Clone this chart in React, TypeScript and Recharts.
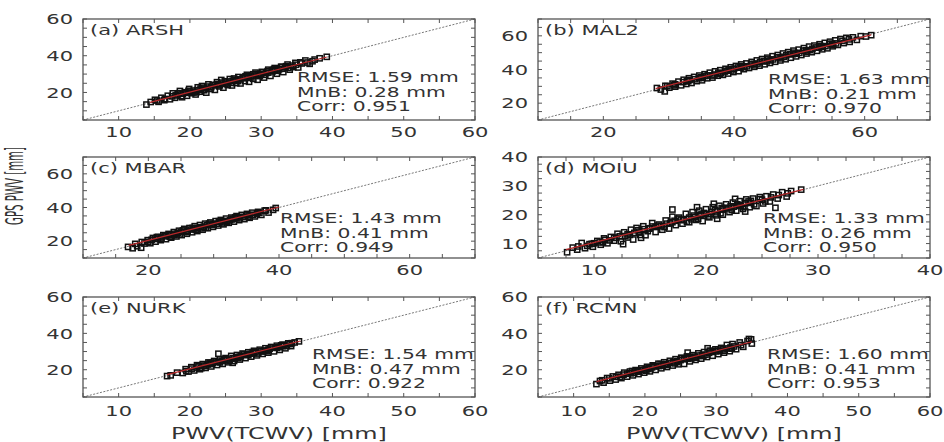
import { ScatterChart, Scatter, XAxis, YAxis } from "recharts";

type Pt = [number, number];

const SX = 1.45;
const FONT = "'DejaVu Sans', Verdana, sans-serif";
const TXT = "#333";
const FRAME = "#555";
const RED = "#b8282a";

// ---- values ----
const titles = ["(a) ARSH", "(b) MAL2", "(c) MBAR", "(d) MOIU", "(e) NURK", "(f) RCMN"];

const statsA = ["RMSE: 1.59 mm", "MnB: 0.28 mm", "Corr: 0.951"];
const statsB = ["RMSE: 1.63 mm", "MnB: 0.21 mm", "Corr: 0.970"];
const statsC = ["RMSE: 1.43 mm", "MnB: 0.41 mm", "Corr: 0.949"];
const statsD = ["RMSE: 1.33 mm", "MnB: 0.26 mm", "Corr: 0.950"];
const statsE = ["RMSE: 1.54 mm", "MnB: 0.47 mm", "Corr: 0.922"];
const statsF = ["RMSE: 1.60 mm", "MnB: 0.41 mm", "Corr: 0.953"];

const domA: Pt = [5, 60];
const domB: Pt = [10, 70];
const domC: Pt = [10, 70];
const domD: Pt = [5, 40];

const ticks10to60 = [10, 20, 30, 40, 50, 60];
const ticks20to60 = [20, 40, 60];
const ticks10to40 = [10, 20, 30, 40];
const minor5to60 = [5, 10, 15, 20, 25, 30, 35, 40, 45, 50, 55, 60];
const minor10to70 = [10, 15, 20, 25, 30, 35, 40, 45, 50, 55, 60, 65, 70];
const minor5to40 = [5, 7.5, 10, 12.5, 15, 17.5, 20, 22.5, 25, 27.5, 30, 32.5, 35, 37.5, 40];

const ptsA: Pt[] = [
  [13.9, 13.4], [14.5, 14.8], [15.1, 16.0], [15.6, 14.9], [16.0, 17.1], [16.4, 15.8], [16.9, 18.2], [17.2, 16.3], [17.6, 19.5], [17.9, 17.1],
  [18.3, 18.9], [18.6, 20.8], [18.9, 17.4], [19.3, 20.1], [19.6, 18.2], [19.9, 21.9], [20.2, 19.6], [20.5, 21.0], [20.8, 18.9], [21.1, 22.8],
  [21.4, 20.4], [21.7, 23.5], [22.0, 21.2], [22.3, 19.9], [22.6, 24.4], [22.9, 22.1], [23.2, 23.9], [23.5, 21.4], [23.8, 25.6], [24.1, 23.3],
  [24.4, 26.8], [24.7, 22.6], [25.0, 25.4], [25.3, 24.0], [25.6, 27.3], [25.9, 23.8], [26.2, 26.6], [26.5, 25.1], [26.8, 28.4], [27.1, 24.9],
  [27.4, 27.8], [27.7, 26.2], [28.0, 29.6], [28.3, 25.8], [28.6, 28.9], [28.9, 27.4], [29.2, 30.8], [29.5, 26.9], [29.8, 29.5], [30.1, 31.2],
  [30.4, 28.1], [30.7, 30.6], [31.0, 32.4], [31.3, 29.0], [31.6, 31.5], [31.9, 33.3], [32.2, 30.2], [32.5, 32.6], [32.8, 34.0], [33.1, 31.1],
  [33.4, 33.7], [33.7, 35.2], [34.0, 32.4], [34.4, 34.6], [34.8, 36.1], [35.2, 33.6], [35.7, 35.8], [36.2, 37.4], [36.8, 35.6], [37.5, 37.9],
  [38.2, 38.6], [39.2, 39.4], [20.0, 20.4], [21.0, 21.3], [22.0, 22.6], [23.0, 22.9], [24.0, 24.6], [25.0, 24.7], [26.0, 26.3], [27.0, 27.1],
  [28.0, 27.9], [29.0, 29.2], [30.0, 30.0], [31.0, 30.8], [32.0, 32.2], [33.0, 32.9], [24.5, 25.3], [26.5, 27.0], [28.5, 28.1], [30.5, 29.6],
  [19.0, 19.3], [18.0, 18.4], [17.5, 17.9], [18.5, 19.6], [19.5, 19.8], [20.5, 20.0], [21.5, 22.1], [22.5, 23.2], [23.5, 24.1], [24.2, 23.9],
  [25.5, 26.0], [26.7, 26.2], [27.5, 28.2], [28.2, 28.6], [29.5, 30.1], [30.2, 30.9], [31.5, 32.0], [32.3, 31.8], [33.5, 34.3], [34.5, 33.8],
  [35.5, 36.4], [36.5, 36.3], [37.2, 37.0], [19.8, 20.9], [21.8, 21.5], [23.8, 24.4], [25.8, 25.2], [27.8, 28.8], [29.8, 28.9], [31.8, 32.7],
  [33.8, 33.4], [22.8, 21.9], [26.2, 27.6], [28.9, 29.9], [30.9, 31.6], [32.9, 33.9], [24.9, 26.1], [20.9, 20.1], [18.8, 18.0], [16.5, 16.4],
  [15.4, 15.6], [34.9, 35.1],
];

const ptsB: Pt[] = [
  [28.2, 29.0], [28.8, 28.1], [29.4, 27.0], [29.5, 30.3], [30.1, 29.2], [30.6, 31.6], [31.0, 29.8], [31.5, 32.8], [31.9, 30.6], [32.3, 33.9],
  [32.7, 31.4], [33.1, 34.8], [33.5, 32.0], [33.9, 35.6], [34.3, 33.1], [34.7, 36.4], [35.1, 33.6], [35.5, 37.2], [35.9, 34.8], [36.3, 38.1],
  [36.7, 35.2], [37.1, 38.9], [37.5, 36.3], [37.9, 39.6], [38.3, 36.8], [38.7, 40.4], [39.1, 37.6], [39.5, 41.3], [39.9, 38.5], [40.3, 42.1],
  [40.7, 39.0], [41.1, 43.0], [41.5, 40.2], [41.9, 43.6], [42.3, 40.9], [42.7, 44.5], [43.1, 41.6], [43.5, 45.4], [43.9, 42.3], [44.3, 46.2],
  [44.7, 43.1], [45.1, 47.0], [45.5, 43.9], [45.9, 47.9], [46.3, 44.6], [46.7, 48.6], [47.1, 45.4], [47.5, 49.5], [47.9, 46.1], [48.3, 50.3],
  [48.7, 47.0], [49.1, 51.2], [49.5, 47.8], [49.9, 51.8], [50.3, 48.6], [50.7, 52.7], [51.1, 49.5], [51.5, 53.6], [51.9, 50.3], [52.3, 54.2],
  [52.7, 51.1], [53.1, 55.0], [53.5, 52.0], [53.9, 55.8], [54.3, 52.6], [54.7, 56.5], [55.1, 53.8], [55.5, 57.3], [55.9, 54.6], [56.3, 58.1],
  [56.8, 55.7], [57.2, 58.8], [57.7, 56.4], [58.2, 59.1], [58.8, 57.6], [59.4, 59.8], [60.2, 59.6], [61.0, 60.4], [31.0, 31.2], [33.0, 33.1],
  [35.0, 35.4], [37.0, 37.0], [39.0, 39.3], [41.0, 41.1], [43.0, 43.4], [45.0, 44.8], [47.0, 47.3], [49.0, 49.1], [51.0, 51.4], [53.0, 53.0],
  [55.0, 55.3], [34.0, 34.2], [36.0, 36.5], [38.0, 37.8], [40.0, 40.4], [42.0, 41.9], [44.0, 44.5], [46.0, 46.0], [48.0, 48.4], [50.0, 49.9],
  [52.0, 52.3], [54.0, 53.9], [29.8, 30.1], [30.8, 30.6], [32.2, 32.5], [33.2, 33.8], [34.6, 34.9], [35.6, 36.1], [36.6, 36.4], [37.6, 38.1],
  [38.6, 38.8], [39.6, 39.4], [40.6, 41.2], [41.6, 41.4], [42.6, 43.1], [43.6, 43.5], [44.6, 45.1], [45.6, 45.4], [46.6, 47.2], [47.6, 47.5],
  [48.6, 49.1], [49.6, 49.4], [50.6, 51.2], [51.6, 51.5], [52.6, 53.1], [53.6, 53.4], [54.6, 55.2], [55.6, 55.5], [56.6, 57.0], [57.6, 57.9],
  [32.8, 33.0], [35.2, 35.0], [37.8, 37.4], [39.2, 40.1], [41.2, 42.0], [43.2, 42.5], [45.2, 46.0], [47.2, 46.6], [49.2, 50.0], [51.2, 50.6],
  [53.2, 54.0], [55.2, 54.6],
];

const ptsC: Pt[] = [
  [16.9, 16.6], [17.6, 15.8], [18.3, 17.0], [18.9, 16.1], [19.4, 18.6], [19.9, 20.6], [20.3, 18.8], [20.7, 21.9], [21.1, 19.7], [21.5, 22.5],
  [21.9, 20.6], [22.3, 23.6], [22.7, 21.2], [23.1, 24.3], [23.5, 22.1], [23.9, 25.4], [24.3, 22.8], [24.7, 26.2], [25.1, 23.6], [25.5, 27.3],
  [25.9, 24.4], [26.3, 27.8], [26.7, 25.3], [27.1, 28.9], [27.5, 26.0], [27.9, 29.6], [28.3, 26.8], [28.7, 30.4], [29.1, 27.7], [29.5, 31.1],
  [29.9, 28.5], [30.3, 31.9], [30.7, 29.3], [31.1, 32.6], [31.5, 30.0], [31.9, 33.4], [32.3, 30.9], [32.7, 34.0], [33.1, 31.6], [33.5, 34.9],
  [33.9, 32.5], [34.3, 35.6], [34.7, 33.1], [35.1, 36.2], [35.5, 33.9], [35.9, 36.9], [36.3, 34.7], [36.8, 37.4], [37.3, 35.6], [37.8, 38.1],
  [38.4, 37.0], [39.1, 38.6], [20.5, 20.8], [21.5, 21.3], [22.5, 22.9], [23.5, 23.6], [24.5, 24.9], [25.5, 25.4], [26.5, 26.9], [27.5, 27.7],
  [28.5, 28.6], [29.5, 29.8], [30.5, 30.4], [31.5, 31.8], [32.5, 32.4], [33.5, 33.7], [34.5, 34.3], [35.5, 35.6], [22.0, 22.3], [24.0, 24.4],
  [26.0, 26.1], [28.0, 28.3], [30.0, 30.2], [32.0, 32.0], [34.0, 34.4], [18.0, 18.4], [19.0, 19.5], [20.0, 19.6], [21.0, 21.6], [22.0, 21.5],
  [23.0, 23.5], [24.0, 23.6], [25.0, 25.6], [26.0, 25.5], [27.0, 27.5], [28.0, 27.6], [29.0, 29.5], [30.0, 29.6], [31.0, 31.4], [32.0, 31.5],
  [33.0, 33.4], [34.0, 33.5], [35.0, 35.3], [36.0, 35.6], [37.0, 36.8], [38.0, 38.3], [39.5, 39.7], [21.3, 22.4], [23.3, 22.6], [25.3, 26.4],
  [27.3, 26.6], [29.3, 30.4], [31.3, 30.6], [33.3, 34.2], [35.3, 34.5], [24.8, 24.0], [26.8, 27.9], [28.8, 28.0], [30.8, 31.9], [32.8, 32.9],
  [36.6, 36.2],
];

const ptsD: Pt[] = [
  [7.6, 7.0], [8.1, 8.6], [8.5, 7.9], [8.9, 10.2], [9.2, 8.4], [9.6, 9.8], [9.9, 8.9], [10.3, 10.9], [10.6, 9.6], [10.9, 11.8],
  [11.2, 10.1], [11.5, 12.3], [11.8, 11.0], [12.1, 13.4], [12.4, 10.8], [12.7, 13.9], [13.0, 12.1], [13.3, 14.8], [13.5, 11.4], [13.8, 15.4],
  [14.1, 13.0], [14.4, 16.0], [14.6, 12.9], [14.9, 15.2], [15.2, 17.1], [15.5, 14.0], [15.8, 16.6], [16.1, 14.8], [16.4, 18.0], [16.7, 15.2],
  [17.0, 19.3], [17.0, 21.8], [17.3, 16.4], [17.6, 19.0], [17.9, 16.9], [18.2, 20.3], [18.5, 17.4], [18.8, 20.9], [19.1, 18.2], [19.4, 21.4],
  [19.7, 17.8], [20.0, 21.9], [20.3, 19.1], [20.6, 22.6], [20.9, 19.8], [21.2, 23.1], [21.5, 20.0], [21.8, 23.6], [22.1, 20.9], [22.4, 24.2],
  [22.7, 21.4], [23.0, 24.7], [23.3, 22.0], [23.6, 25.3], [23.9, 22.6], [24.2, 25.6], [24.5, 23.0], [24.8, 26.1], [25.1, 23.9], [25.4, 26.4],
  [25.7, 24.6], [26.0, 27.0], [26.2, 22.4], [26.4, 25.6], [26.8, 27.8], [27.2, 26.3], [27.6, 28.2], [28.5, 28.7], [10.0, 10.1], [11.0, 11.3],
  [12.0, 12.0], [13.0, 13.2], [14.0, 14.1], [15.0, 15.3], [16.0, 16.0], [17.0, 17.4], [18.0, 18.1], [19.0, 19.2], [20.0, 20.3], [21.0, 21.1],
  [22.0, 22.2], [23.0, 23.3], [24.0, 24.1], [25.0, 25.2], [18.5, 19.0], [19.5, 19.9], [20.5, 21.0], [21.5, 21.9], [22.5, 22.8], [23.5, 24.0],
  [16.5, 16.9], [15.5, 15.8], [12.6, 9.8], [14.2, 12.0], [8.6, 9.0], [9.4, 9.2], [10.5, 10.4], [11.4, 11.1], [12.3, 12.5], [13.2, 13.0],
  [13.9, 14.6], [14.8, 14.3], [15.7, 16.2], [16.3, 15.7], [17.2, 17.9], [17.8, 18.3], [18.3, 17.6], [18.9, 19.7], [19.3, 18.6], [19.8, 20.6],
  [20.2, 19.4], [20.8, 21.6], [21.3, 20.5], [21.8, 22.4], [22.3, 21.6], [22.8, 23.6], [23.3, 22.6], [23.8, 24.6], [24.3, 23.6], [24.8, 25.4],
  [25.3, 24.6], [25.8, 26.0], [26.5, 26.8], [27.3, 27.4], [15.2, 15.9], [16.8, 17.0], [17.5, 18.6], [18.7, 18.4], [19.6, 20.1], [20.4, 20.2],
  [21.4, 22.3], [22.2, 22.9], [23.1, 23.1], [24.0, 24.8], [14.5, 15.0], [13.6, 13.7], [12.8, 12.6], [11.8, 12.0], [10.8, 10.5], [9.8, 9.9],
  [20.7, 23.8], [22.6, 25.5], [19.2, 22.6], [21.0, 18.6], [23.5, 21.1],
];

const ptsE: Pt[] = [
  [16.8, 16.5], [17.3, 16.9], [19.0, 18.2], [19.4, 20.3], [19.8, 19.0], [20.2, 21.4], [20.6, 19.6], [21.0, 22.5], [21.4, 20.3], [21.8, 23.1],
  [22.2, 21.0], [22.6, 24.0], [23.0, 21.8], [23.4, 24.8], [23.8, 22.6], [24.2, 25.6], [24.6, 23.2], [25.0, 26.4], [25.4, 24.1], [25.8, 27.6],
  [26.2, 24.8], [26.6, 28.1], [27.0, 25.6], [27.4, 28.9], [27.8, 26.4], [28.2, 29.6], [28.6, 27.2], [29.0, 30.4], [29.4, 27.9], [29.8, 31.0],
  [30.2, 28.7], [30.6, 31.8], [31.0, 29.4], [31.4, 32.5], [31.8, 30.1], [32.2, 33.2], [32.6, 30.9], [33.0, 33.8], [33.4, 31.8], [33.8, 34.5],
  [34.2, 33.0], [34.7, 35.0], [35.3, 35.6], [21.0, 21.2], [22.0, 22.3], [23.0, 23.1], [24.0, 24.3], [25.0, 25.1], [26.0, 26.4], [27.0, 27.2],
  [28.0, 28.3], [29.0, 29.1], [30.0, 30.3], [31.0, 31.0], [32.0, 32.3], [33.0, 33.0], [34.0, 34.1], [26.5, 27.0], [28.5, 28.8], [30.5, 30.6],
  [32.5, 32.4], [24.5, 24.8], [22.5, 22.9], [18.2, 18.4], [19.5, 19.2], [20.3, 20.6], [21.2, 21.9], [22.2, 22.0], [23.2, 23.6], [24.2, 24.0],
  [25.2, 25.6], [26.2, 26.1], [27.2, 27.6], [28.2, 28.0], [29.2, 29.6], [30.2, 30.0], [31.2, 31.6], [32.2, 32.0], [33.2, 33.5], [34.3, 34.6],
  [21.6, 20.9], [23.6, 24.4], [25.6, 24.9], [27.6, 28.4], [29.6, 28.9], [31.6, 32.3], [33.6, 33.0], [22.8, 23.7], [24.8, 25.8], [26.8, 26.4],
  [28.8, 29.7], [30.8, 30.2], [32.8, 33.4], [24.0, 28.8], [26.0, 23.8],
];

const ptsF: Pt[] = [
  [13.2, 12.1], [13.7, 13.8], [14.2, 12.9], [14.7, 15.4], [15.1, 14.0], [15.5, 16.3], [15.9, 14.6], [16.3, 17.2], [16.7, 15.4], [17.1, 18.4],
  [17.5, 16.2], [17.9, 19.0], [18.3, 16.9], [18.7, 19.8], [19.1, 17.6], [19.5, 20.7], [19.9, 18.4], [20.3, 21.6], [20.7, 19.1], [21.1, 22.4],
  [21.5, 19.9], [21.9, 23.3], [22.3, 20.8], [22.7, 24.1], [23.1, 21.5], [23.5, 24.9], [23.9, 22.3], [24.3, 25.8], [24.7, 23.0], [25.1, 26.6],
  [25.5, 23.2], [25.9, 27.3], [26.3, 24.6], [26.7, 28.0], [27.1, 25.4], [27.5, 29.0], [27.9, 26.1], [28.3, 29.7], [28.7, 27.0], [29.1, 30.5],
  [29.5, 27.7], [29.9, 31.2], [30.3, 28.6], [30.7, 32.0], [31.1, 29.4], [31.5, 33.6], [31.9, 30.2], [32.3, 34.1], [32.8, 31.3], [33.3, 35.0],
  [33.8, 32.6], [34.4, 35.8], [34.9, 36.7], [35.0, 34.4], [16.0, 16.1], [17.0, 17.3], [18.0, 18.0], [19.0, 19.2], [20.0, 20.1], [21.0, 21.3],
  [22.0, 22.0], [23.0, 23.2], [24.0, 24.1], [25.0, 25.3], [26.0, 26.0], [27.0, 27.2], [28.0, 28.1], [29.0, 29.3], [30.0, 30.1], [31.0, 31.2],
  [32.0, 32.2], [20.5, 20.9], [22.5, 22.7], [24.5, 24.8], [26.5, 26.6], [14.0, 14.2], [15.0, 15.3], [16.5, 16.1], [17.5, 17.8], [18.5, 18.4],
  [19.5, 19.8], [20.5, 20.4], [21.5, 21.8], [22.5, 22.3], [23.5, 23.8], [24.5, 24.2], [25.5, 25.8], [26.5, 26.2], [27.5, 27.8], [28.5, 28.3],
  [29.5, 29.8], [30.5, 30.3], [31.5, 31.7], [32.5, 32.8], [33.5, 33.6], [18.2, 19.3], [20.2, 19.5], [22.2, 23.1], [24.2, 23.5], [26.2, 27.1],
  [28.2, 27.5], [30.2, 31.1], [32.2, 31.6], [19.2, 18.9], [21.2, 22.1], [23.2, 22.6], [25.2, 26.3], [27.2, 26.6], [29.2, 30.2], [31.2, 30.5],
  [26.0, 29.4], [28.8, 31.8], [34.6, 36.9],
];

// regression line end points
const fitA: Pt[] = [[14.4, 14.6], [39.2, 39.3]];
const fitB: Pt[] = [[28.0, 28.6], [61.0, 60.6]];
const fitC: Pt[] = [[17.0, 17.5], [40.0, 40.3]];
const fitD: Pt[] = [[7.5, 7.9], [28.7, 28.8]];
const fitE: Pt[] = [[16.8, 17.3], [35.5, 35.8]];
const fitF: Pt[] = [[13.2, 13.5], [35.0, 35.4]];

// ---- layout ----
interface Panel {
  title: string;
  stats: string[];
  pts: Pt[];
  fit: Pt[];
  dom: Pt;
  yMajor: number[];
  xMajor: number[];
  minor: number[];
  col: number;
  row: number;
  statsX: number;
  statsY: number;
}

const panels: Panel[] = [
  { title: titles[0], stats: statsA, pts: ptsA, fit: fitA, dom: domA, yMajor: ticks20to60, xMajor: ticks10to60, minor: minor5to60, col: 0, row: 0, statsX: 297, statsY: 82 },
  { title: titles[1], stats: statsB, pts: ptsB, fit: fitB, dom: domB, yMajor: ticks20to60, xMajor: ticks20to60, minor: minor10to70, col: 1, row: 0, statsX: 768, statsY: 84 },
  { title: titles[2], stats: statsC, pts: ptsC, fit: fitC, dom: domC, yMajor: ticks20to60, xMajor: ticks20to60, minor: minor10to70, col: 0, row: 1, statsX: 280, statsY: 223 },
  { title: titles[3], stats: statsD, pts: ptsD, fit: fitD, dom: domD, yMajor: ticks10to40, xMajor: ticks10to40, minor: minor5to40, col: 1, row: 1, statsX: 763, statsY: 223 },
  { title: titles[4], stats: statsE, pts: ptsE, fit: fitE, dom: domA, yMajor: ticks20to60, xMajor: ticks10to60, minor: minor5to60, col: 0, row: 2, statsX: 312, statsY: 359 },
  { title: titles[5], stats: statsF, pts: ptsF, fit: fitF, dom: domA, yMajor: ticks20to60, xMajor: ticks10to60, minor: minor5to60, col: 1, row: 2, statsX: 767, statsY: 359 },
];

const COLS = [
  { left: 0, width: 500, plotLeft: 83, plotRight: 475 },
  { left: 480, width: 464, plotLeft: 538, plotRight: 930 },
];
const ROWS = [
  { top: 0, plotTop: 19, plotH: 101, labelGap: 7 },
  { top: 140, plotTop: 157, plotH: 101, labelGap: 7 },
  { top: 280, plotTop: 297, plotH: 100, labelGap: 9 },
];
const XAXIS_H = 32;
const TICK = 4;

const label = (v: number, anchor: "middle" | "end", dy: string, tx: number, ty: number) => (
  <text transform={`translate(${tx},${ty}) scale(${SX},1)`} textAnchor={anchor} dy={dy} fontSize={14.5} fontFamily={FONT} fill={TXT}>
    {v}
  </text>
);

// bottom axis: inward tick at bottom and top edge, label for major values
const bottomTick = (major: number[], plotH: number, gap: number) => (props: any) => {
  const { x, y, payload } = props;
  return (
    <g>
      <path d={`M${x},${y}v${-TICK}M${x},${y - plotH}v${TICK}`} stroke={FRAME} strokeWidth={1} fill="none" />
      {major.includes(payload.value) && label(payload.value, "middle", "0.72em", x, y + gap)}
    </g>
  );
};

// left axis: inward tick at left and right edge, label for major values
const leftTick = (major: number[], plotW: number) => (props: any) => {
  const { x, y, payload } = props;
  return (
    <g>
      <path d={`M${x},${y}h${TICK}M${x + plotW},${y}h${-TICK}`} stroke={FRAME} strokeWidth={1} fill="none" />
      {major.includes(payload.value) && label(payload.value, "end", "0.36em", x - 10, y)}
    </g>
  );
};

const Square = (props: any) => (
  <rect x={props.cx - 2.6} y={props.cy - 2.6} width={5.2} height={5.2} fill="none" stroke="#111" strokeWidth={1.5} />
);
const NoDot = () => <g />;

function PanelChart({ p }: { p: Panel }) {
  const c = COLS[p.col];
  const r = ROWS[p.row];
  const height = r.plotTop - r.top + r.plotH + XAXIS_H;
  const data = p.pts.map(([x, y]) => ({ x, y }));
  const fit = p.fit.map(([x, y]) => ({ x, y }));
  const diag = [{ x: p.dom[0], y: p.dom[0] }, { x: p.dom[1], y: p.dom[1] }];
  return (
    <div style={{ position: "absolute", left: c.left, top: r.top }}>
      <ScatterChart
        width={c.width}
        height={height}
        margin={{ top: r.plotTop - r.top, right: c.left + c.width - c.plotRight, bottom: 0, left: 0 }}
      >
        <XAxis
          dataKey="x"
          type="number"
          domain={p.dom}
          ticks={p.minor}
          interval={0}
          height={XAXIS_H}
          tickLine={false}
          tickSize={0}
          tickMargin={0}
          axisLine={false}
          tick={bottomTick(p.xMajor, r.plotH, r.labelGap)}
        />
        <YAxis
          dataKey="y"
          type="number"
          domain={p.dom}
          ticks={p.minor}
          interval={0}
          width={c.plotLeft - c.left}
          tickLine={false}
          tickSize={0}
          tickMargin={0}
          axisLine={false}
          tick={leftTick(p.yMajor, c.plotRight - c.plotLeft)}
        />
        <Scatter
          data={diag}
          line={{ stroke: "#555", strokeWidth: 0.8, strokeDasharray: "2 1.5" }}
          shape={NoDot}
          isAnimationActive={false}
        />
        <Scatter data={data} shape={Square} isAnimationActive={false} />
        <Scatter data={fit} line={{ stroke: RED, strokeWidth: 1.2 }} shape={NoDot} isAnimationActive={false} />
      </ScatterChart>
    </div>
  );
}

export default function App() {
  return (
    <div style={{ position: "absolute", left: 0, top: 0, width: 944, height: 442, background: "#fff", overflow: "hidden" }}>
      {panels.map((p) => (
        <PanelChart key={p.title} p={p} />
      ))}
      <svg width={944} height={442} style={{ position: "absolute", left: 0, top: 0, pointerEvents: "none" }} fontFamily={FONT}>
        {panels.map((p) => {
          const c = COLS[p.col];
          const r = ROWS[p.row];
          return (
            <g key={p.title}>
              <rect
                x={c.plotLeft}
                y={r.plotTop}
                width={c.plotRight - c.plotLeft}
                height={r.plotH}
                stroke={FRAME}
                strokeWidth={1.3}
                fill="none"
              />
              <text transform={`translate(${c.plotLeft + 7},${r.plotTop + 16}) scale(${SX},1)`} fontSize={14.5} fill={TXT}>
                {p.title}
              </text>
              {p.stats.map((s, i) => (
                <text key={s} transform={`translate(${p.statsX},${p.statsY + i * 14.5}) scale(${SX},1)`} fontSize={14} fill={TXT}>
                  {s}
                </text>
              ))}
            </g>
          );
        })}
        {COLS.map((c, i) => (
          <text
            key={i}
            transform={`translate(${(c.plotLeft + c.plotRight) / 2},439) scale(${SX},1)`}
            textAnchor="middle"
            fontSize={16.5}
            fill={TXT}
          >
            PWV(TCWV) [mm]
          </text>
        ))}
        <text
          transform="translate(23,186) scale(1.45,1) rotate(-90)"
          textAnchor="middle"
          fontSize={17}
          textLength={78}
          lengthAdjust="spacingAndGlyphs"
          fill={TXT}
        >
          GPS PWV [mm]
        </text>
      </svg>
    </div>
  );
}
